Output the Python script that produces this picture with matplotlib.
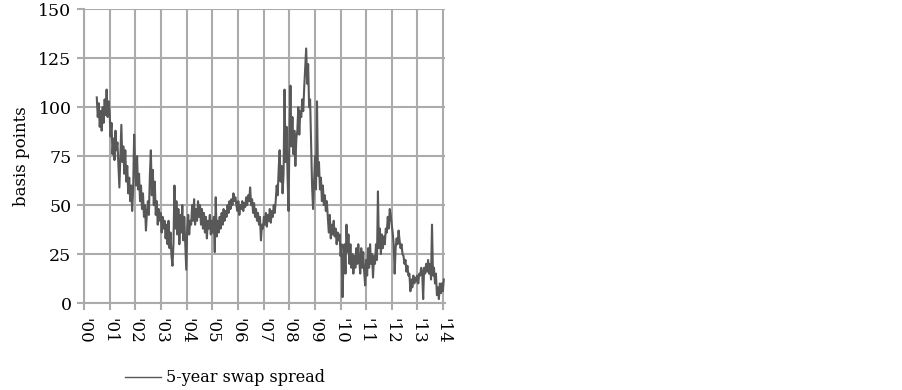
import matplotlib
matplotlib.use("Agg")
import matplotlib.pyplot as plt
import pandas as pd

plt.rcParams['font.family'] = ['DejaVu Serif']

# 5-year swap spread (basis points), roughly bi-weekly readings from mid-2000
spread_2000h2 = [105, 95, 102, 90, 98, 88, 100, 92, 104, 96, 109, 95, 103]
spread_2001h1 = [98, 85, 92, 76, 84, 73, 88, 78, 82, 70, 59, 75, 91]
spread_2001h2 = [72, 80, 66, 78, 62, 70, 56, 64, 52, 60, 47, 58, 86]
spread_2002h1 = [70, 60, 75, 58, 66, 52, 60, 48, 56, 44, 50, 37, 46]
spread_2002h2 = [52, 45, 65, 78, 55, 68, 50, 62, 45, 52, 40, 48, 42]
spread_2003h1 = [46, 36, 44, 38, 42, 33, 40, 30, 42, 28, 36, 24, 19]
spread_2003h2 = [30, 60, 38, 52, 35, 48, 30, 45, 36, 50, 32, 44, 30]
spread_2004h1 = [17, 38, 45, 35, 42, 40, 50, 42, 53, 40, 48, 42, 52]
spread_2004h2 = [44, 50, 40, 48, 38, 46, 36, 44, 33, 42, 38, 45, 35]
spread_2005h1 = [42, 36, 44, 26, 54, 34, 42, 36, 44, 38, 46, 40, 48]
spread_2005h2 = [42, 47, 44, 50, 46, 52, 48, 53, 50, 56, 52, 54, 50]
spread_2006h1 = [47, 52, 45, 50, 48, 52, 47, 51, 49, 54, 50, 55, 52]
spread_2006h2 = [59, 50, 53, 46, 51, 44, 48, 42, 46, 40, 44, 32, 40]
spread_2007h1 = [38, 44, 40, 46, 39, 45, 42, 48, 41, 47, 44, 50, 46]
spread_2007h2 = [52, 60, 55, 68, 78, 62, 70, 56, 66, 109, 72, 90, 66]
spread_2008h1 = [47, 85, 111, 80, 95, 76, 88, 70, 84, 88, 100, 86, 98]
spread_2008h2 = [95, 104, 98, 110, 120, 130, 112, 122, 100, 104, 82, 60, 48]
spread_2009h1 = [62, 75, 58, 103, 65, 72, 58, 64, 52, 60, 50, 55, 47]
spread_2009h2 = [52, 44, 36, 45, 33, 40, 35, 42, 34, 38, 30, 36, 32]
spread_2010h1 = [35, 24, 30, 3, 22, 30, 15, 40, 26, 35, 20, 30, 18]
spread_2010h2 = [25, 15, 24, 18, 28, 20, 30, 22, 15, 28, 18, 26, 16]
spread_2011h1 = [9, 22, 14, 28, 18, 30, 20, 25, 13, 24, 20, 30, 22]
spread_2011h2 = [57, 28, 38, 25, 35, 28, 34, 30, 38, 36, 44, 38, 48]
spread_2012h1 = [45, 40, 36, 30, 15, 28, 33, 30, 37, 32, 28, 30, 25]
spread_2012h2 = [24, 20, 22, 16, 19, 14, 15, 6, 12, 8, 14, 10, 13]
spread_2013h1 = [11, 14, 10, 15, 14, 18, 16, 2, 18, 15, 20, 16, 22]
spread_2013h2 = [15, 20, 12, 40, 14, 18, 10, 15, 4, 8, 2, 10, 5]
spread_2014 = [10, 6, 12]

values = (spread_2000h2 + spread_2001h1 + spread_2001h2 + spread_2002h1 + spread_2002h2 +
          spread_2003h1 + spread_2003h2 + spread_2004h1 + spread_2004h2 + spread_2005h1 +
          spread_2005h2 + spread_2006h1 + spread_2006h2 + spread_2007h1 + spread_2007h2 +
          spread_2008h1 + spread_2008h2 + spread_2009h1 + spread_2009h2 + spread_2010h1 +
          spread_2010h2 + spread_2011h1 + spread_2011h2 + spread_2012h1 + spread_2012h2 +
          spread_2013h1 + spread_2013h2 + spread_2014)
dates = pd.date_range('2000-07-01', periods=len(values), freq='14D')

years = list(range(2000, 2015))
year_labels = ["'00", "'01", "'02", "'03", "'04", "'05", "'06", "'07", "'08", "'09",
               "'10", "'11", "'12", "'13", "'14"]
y_ticks = [0, 25, 50, 75, 100, 125, 150]

fig = plt.figure(figsize=(9.03, 3.90), dpi=100)
ax = fig.add_axes([84/903, 1 - 303/390, (445 - 84)/903, (303 - 9.3)/390])

grid_c = '#ababab'
line, = ax.plot(dates, values, color='#585858', linewidth=1.5)

ax.set_xlim(pd.Timestamp('2000-01-01'), pd.Timestamp('2014-01-28'))
ax.set_ylim(0, 150)
ax.set_xticks([pd.Timestamp(f'{y}-01-01') for y in years])
ax.set_xticklabels(year_labels, rotation=-90, fontsize=12)
ax.set_yticks(y_ticks)
ax.set_yticklabels([str(v) for v in y_ticks], fontsize=12.5)
ax.grid(True, color=grid_c, linewidth=1.5)
ax.set_axisbelow(True)
for s in ['top', 'right']:
    ax.spines[s].set_visible(False)
for s in ['left', 'bottom']:
    ax.spines[s].set_color(grid_c)
    ax.spines[s].set_linewidth(1.5)
ax.tick_params(axis='both', colors=grid_c, length=5, width=1.5, labelcolor='black')
ax.tick_params(axis='x', pad=6)
ax.tick_params(axis='y', pad=4)
ax.set_ylabel('basis points', fontsize=12, labelpad=6)

fig.legend([line], ['5-year swap spread'], loc='center', bbox_to_anchor=(225/903, 1 - 378/390),
           frameon=False, fontsize=11.5, handlelength=2.3, handletextpad=0.3)
line_legend = fig.legends[0].get_lines()[0]
line_legend.set_linewidth(1.0)

fig.savefig('out.png', dpi=100)
